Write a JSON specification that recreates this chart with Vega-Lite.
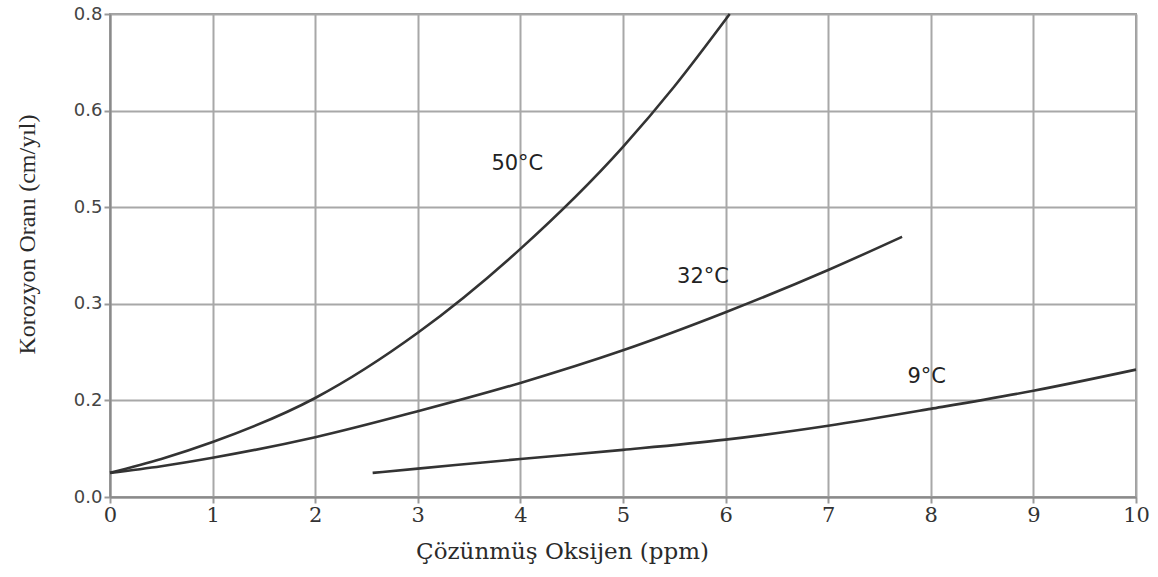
{
  "$schema": "https://vega.github.io/schema/vega-lite/v6.json",
  "width": 1026,
  "height": 483,
  "autosize": {"type": "none"},
  "padding": {"left": 110, "top": 14, "right": 22, "bottom": 80},
  "background": "white",
  "config": {
    "view": {"stroke": "#9a9a9a", "strokeWidth": 2},
    "axis": {"gridColor": "#a8a8a8", "gridWidth": 2, "domainColor": "#8a8a8a", "domainWidth": 2, "tickColor": "#9a9a9a", "tickWidth": 2, "tickSize": 6}
  },
  "datasets": {
    "curves": [
      {"o2": 0, "rate": 0.040, "temp": "50°C"},
      {"o2": 0.5, "rate": 0.063, "temp": "50°C"},
      {"o2": 1, "rate": 0.091, "temp": "50°C"},
      {"o2": 2, "rate": 0.164, "temp": "50°C"},
      {"o2": 3, "rate": 0.272, "temp": "50°C"},
      {"o2": 4, "rate": 0.411, "temp": "50°C"},
      {"o2": 5, "rate": 0.580, "temp": "50°C"},
      {"o2": 5.5, "rate": 0.680, "temp": "50°C"},
      {"o2": 6.04, "rate": 0.800, "temp": "50°C"},
      {"o2": 0, "rate": 0.040, "temp": "32°C"},
      {"o2": 0.5, "rate": 0.051, "temp": "32°C"},
      {"o2": 1, "rate": 0.065, "temp": "32°C"},
      {"o2": 2, "rate": 0.099, "temp": "32°C"},
      {"o2": 3, "rate": 0.142, "temp": "32°C"},
      {"o2": 4, "rate": 0.189, "temp": "32°C"},
      {"o2": 5, "rate": 0.243, "temp": "32°C"},
      {"o2": 6, "rate": 0.306, "temp": "32°C"},
      {"o2": 7, "rate": 0.376, "temp": "32°C"},
      {"o2": 7.72, "rate": 0.431, "temp": "32°C"},
      {"o2": 2.56, "rate": 0.040, "temp": "9°C"},
      {"o2": 3, "rate": 0.047, "temp": "9°C"},
      {"o2": 4, "rate": 0.063, "temp": "9°C"},
      {"o2": 5, "rate": 0.078, "temp": "9°C"},
      {"o2": 6, "rate": 0.095, "temp": "9°C"},
      {"o2": 7, "rate": 0.118, "temp": "9°C"},
      {"o2": 8, "rate": 0.146, "temp": "9°C"},
      {"o2": 9, "rate": 0.176, "temp": "9°C"},
      {"o2": 10, "rate": 0.211, "temp": "9°C"}
    ],
    "labels": [
      {"o2": 3.97, "rate": 0.5515, "temp": "50°C"},
      {"o2": 5.78, "rate": 0.364, "temp": "32°C"},
      {"o2": 7.96, "rate": 0.199, "temp": "9°C"}
    ]
  },
  "layer": [
    {
      "data": {"name": "curves"},
      "mark": {"type": "line", "interpolate": "monotone", "color": "#333333", "strokeWidth": 2.6},
      "encoding": {
        "x": {
          "field": "o2", "type": "quantitative",
          "scale": {"domain": [0, 10], "nice": false},
          "axis": {
            "title": "Çözünmüş Oksijen (ppm)",
            "values": [0, 1, 2, 3, 4, 5, 6, 7, 8, 9, 10],
            "format": "d",
            "labelFont": "DejaVu Serif", "labelFontSize": 21, "labelColor": "#333333", "labelPadding": 1,
            "labelFlush": false,
            "titleFont": "DejaVu Serif", "titleFontSize": 23, "titleFontWeight": "normal", "titleColor": "#2a2a2a",
            "titleX": 452, "titleY": 61, "titleAlign": "center", "titleBaseline": "alphabetic"
          }
        },
        "y": {
          "field": "rate", "type": "quantitative",
          "scale": {"domain": [0, 0.8], "nice": false},
          "axis": {
            "title": "Korozyon Oranı (cm/yıl)",
            "values": [0, 0.16, 0.32, 0.48, 0.64, 0.8],
            "format": ".1f",
            "labelFont": "DejaVu Sans", "labelFontSize": 18, "labelColor": "#444444", "labelPadding": 2,
            "labelFlush": false,
            "titleFont": "Liberation Serif", "titleFontSize": 24, "titleFontWeight": "normal", "titleColor": "#2a2a2a",
            "titleAngle": -90, "titleX": -83, "titleY": 220, "titleAlign": "center", "titleBaseline": "middle"
          }
        },
        "detail": {"field": "temp", "type": "nominal"}
      }
    },
    {
      "data": {"name": "labels"},
      "mark": {"type": "text", "font": "DejaVu Sans", "fontSize": 21, "color": "#222222", "align": "center", "baseline": "middle"},
      "encoding": {
        "x": {"field": "o2", "type": "quantitative"},
        "y": {"field": "rate", "type": "quantitative"},
        "text": {"field": "temp", "type": "nominal"}
      }
    }
  ]
}
